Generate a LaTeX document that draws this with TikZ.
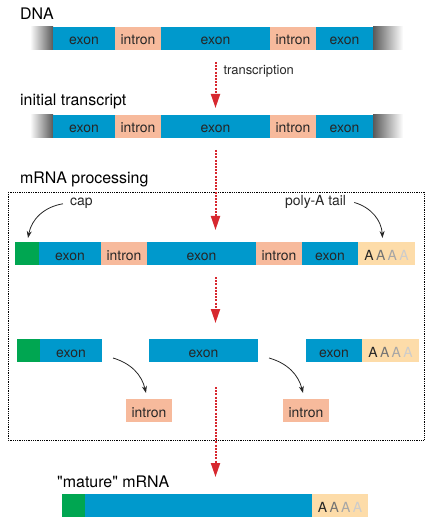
\documentclass[tikz,border=0pt]{standalone}
\usepackage{fontspec}
\setmainfont{TeX Gyre Heros}
\usetikzlibrary{positioning,arrows.meta}

\definecolor{exonblue}{HTML}{0099CC}
\definecolor{intronpink}{HTML}{F7BA9C}
\definecolor{capgreen}{HTML}{00A651}
\definecolor{tailpeach}{HTML}{FDDCA9}
\definecolor{arrowred}{HTML}{D7282F}

\tikzset{
  seg/.style={inner sep=0pt, outer sep=0pt, minimum height=23bp, text height=13bp, text depth=0pt,
    font=\fontsize{14}{16}\selectfont, text=black!85},
  exon/.style={seg, fill=exonblue},
  intron/.style={seg, fill=intronpink},
  capbox/.style={seg, fill=capgreen},
  tailbox/.style={seg, fill=tailpeach},
  fadeL/.style={seg, minimum width=23bp, left color=white, right color=black!65},
  fadeR/.style={seg, minimum width=30bp, left color=black!65, right color=white},
  lbl/.style={anchor=base west, inner sep=0pt, font=\fontsize{16}{19}\selectfont},
  small/.style={anchor=base west, inner sep=0pt, font=\fontsize{14}{16}\selectfont, text=black!85},
  redarrow/.style={color=arrowred, line width=2bp, dash pattern=on 2bp off 1.2bp,
    -{Triangle[width=9bp,length=14bp]}},
  blackarrow/.style={draw=black!85, line width=0.8bp, -{Stealth[width=5bp,length=7bp]}}
}
\newcommand{\polyA}{\textcolor{black!85}{A}\,\textcolor{black!55}{A}\,\textcolor{black!35}{A}\,\textcolor{black!20}{A}}

\begin{document}
\begin{tikzpicture}[x=1bp,y=-1bp]
\useasboundingbox (0,0) rectangle (432,525);

% Labels
\node[lbl] (dnalbl) at (20,20) {DNA};
\node[lbl] (translbl) at (20,106) {initial transcript};
\node[lbl] (proclbl) at (20,184) {mRNA processing};
\node[lbl] (maturelbl) at (57,487) {\textquotedbl mature\textquotedbl{} mRNA};

% DNA
\node[fadeL, anchor=west] (d0) at (30,38.5) {};
\node[exon, right=0pt of d0, minimum width=62bp] (d1) {exon};
\node[intron, right=0pt of d1, minimum width=46bp] (d2) {intron};
\node[exon, right=0pt of d2, minimum width=109bp] (d3) {exon};
\node[intron, right=0pt of d3, minimum width=46bp] (d4) {intron};
\node[exon, right=0pt of d4, minimum width=57bp] (d5) {exon};
\node[fadeR, right=0pt of d5] (d6) {};

% Initial transcript
\node[fadeL, anchor=west] (t0) at (30,126.5) {};
\node[exon, right=0pt of t0, minimum width=62bp] (t1) {exon};
\node[intron, right=0pt of t1, minimum width=46bp] (t2) {intron};
\node[exon, right=0pt of t2, minimum width=109bp] (t3) {exon};
\node[intron, right=0pt of t3, minimum width=46bp] (t4) {intron};
\node[exon, right=0pt of t4, minimum width=57bp] (t5) {exon};
\node[fadeR, right=0pt of t5] (t6) {};

% Processing frame
\draw[densely dotted, line width=0.8bp] (8,192) rectangle (424,440);

% Capped and tailed transcript
\node[capbox, anchor=west, minimum width=24bp] (p1) at (15,253.5) {};
\node[exon, right=0pt of p1, minimum width=62bp] (p2) {exon};
\node[intron, right=0pt of p2, minimum width=46bp] (p3) {intron};
\node[exon, right=0pt of p3, minimum width=109bp] (p4) {exon};
\node[intron, right=0pt of p4, minimum width=46bp] (p5) {intron};
\node[exon, right=0pt of p5, minimum width=56bp] (p6) {exon};
\node[tailbox, right=0pt of p6, minimum width=57bp] (p7) {\polyA};

\node[small] (caplbl) at (70,206) {cap};
\node[small] (taillbl) at (285,206) {poly-A tail};

% Spliced pieces
\node[capbox, anchor=west, minimum width=23bp] (s1) at (17,350.5) {};
\node[exon, right=0pt of s1, minimum width=62bp] (s2) {exon};
\node[exon, anchor=west, minimum width=109bp] (s3) at (149,350.5) {exon};
\node[exon, anchor=west, minimum width=56bp] (s4) at (306,350.5) {exon};
\node[tailbox, right=0pt of s4, minimum width=57bp] (s5) {\polyA};

% Removed introns
\node[intron, anchor=west, minimum width=46bp] (i1) at (126,410.5) {intron};
\node[intron, anchor=west, minimum width=46bp] (i2) at (283,410.5) {intron};

% Mature mRNA
\node[capbox, anchor=west, minimum width=23bp] (m1) at (62,505.5) {};
\node[exon, right=0pt of m1, minimum width=227bp] (m2) {};
\node[tailbox, right=0pt of m2, minimum width=56bp] (m3) {\polyA};

% Red arrows
\draw[redarrow, shorten <=12bp, shorten >=7bp] (d3.south) -- (t3.north)
  node[pos=0.33, right=7bp, inner sep=0pt, font=\fontsize{13}{15}\selectfont, text=black!85] (txlbl) {transcription};
\draw[redarrow, shorten <=12bp, shorten >=12bp] (t3.south) -- (t3.south |- p4.north);
\draw[redarrow, shorten <=12bp, shorten >=16bp] (t3.south |- p4.south) -- (t3.south |- s3.north);
\draw[redarrow, shorten <=25bp, shorten >=17bp] (t3.south |- s3.south) -- (t3.south |- m2.north);

% Black arrows
\coordinate (c1) at ([xshift=11bp,yshift=4bp]s2.south east);
\coordinate (c2) at ([xshift=11bp,yshift=4bp]s3.south east);
\draw[blackarrow] ([xshift=-7bp]caplbl.west) to[bend right=35] ([xshift=1bp,yshift=4bp]p1.north);
\draw[blackarrow] ([xshift=8bp]taillbl.east) to[bend left=35] ([xshift=-4bp,yshift=4bp]p7.north);
\draw[blackarrow] (c1) to[bend left=30] ([xshift=-3bp,yshift=6bp]i1.north);
\draw[blackarrow] (c2) to[bend left=30] ([xshift=-3bp,yshift=6bp]i2.north);

\end{tikzpicture}
\end{document}
